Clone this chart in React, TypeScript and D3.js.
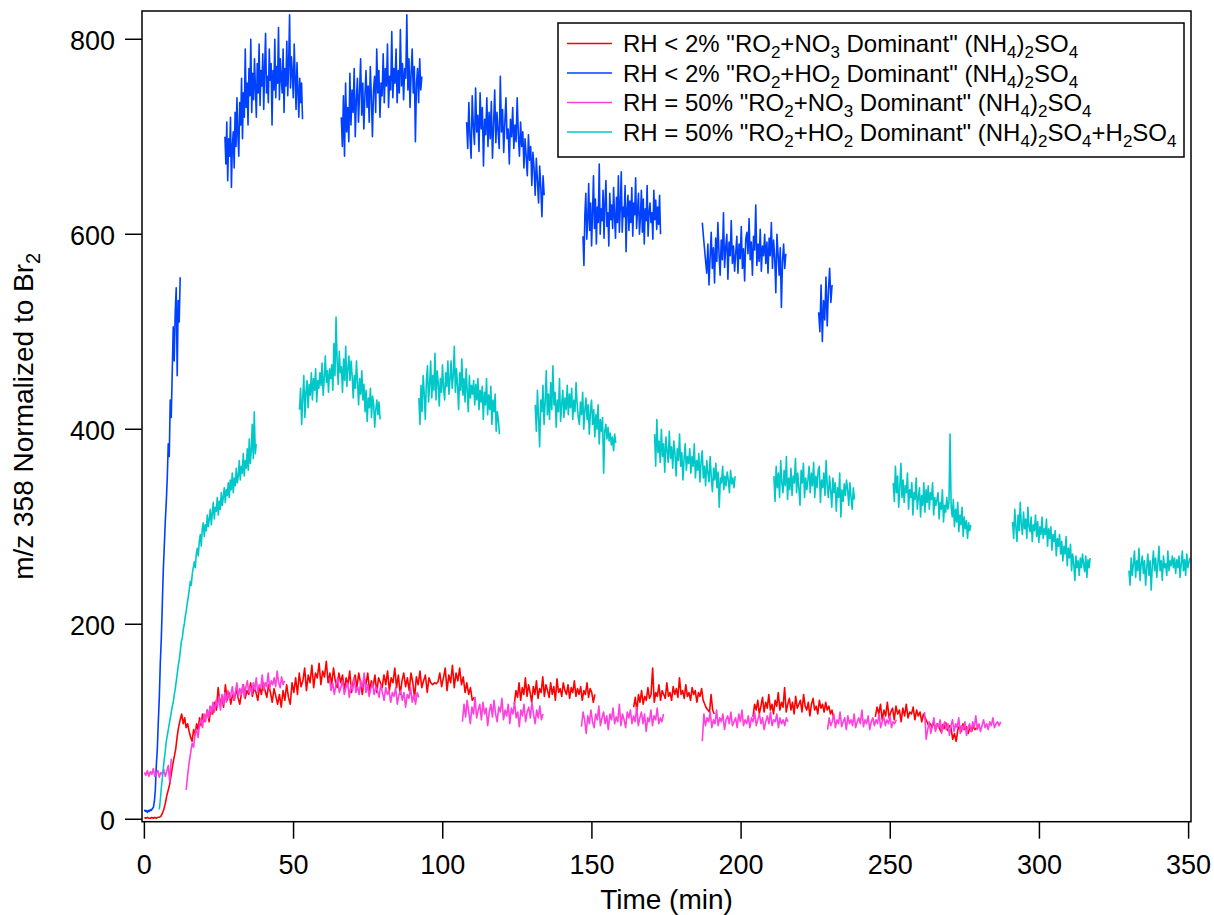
import React from "react";
import * as d3 from "d3";

const W = 1214;
const H = 915;
const FONT = "'Liberation Sans', Arial, Helvetica, sans-serif";

const xTicks = [0, 50, 100, 150, 200, 250, 300, 350];
const yTicks = [0, 200, 400, 600, 800];
const xTitle = "Time (min)";
const yTitle = "m/z 358 Normalized to Br_2";

const legendLabels = [
  'RH < 2% "RO_2+NO_3 Dominant" (NH_4)_2SO_4',
  'RH < 2% "RO_2+HO_2 Dominant" (NH_4)_2SO_4',
  'RH = 50% "RO_2+NO_3 Dominant" (NH_4)_2SO_4',
  'RH = 50% "RO_2+HO_2 Dominant" (NH_4)_2SO_4+H_2SO_4',
];
const seriesColors = ["#ff0000", "#0040ff", "#ff40dc", "#00c8c8"];

// Each piece: [start time (min), end time (min), values evenly spaced in time]
type Piece = [number, number, number[]];

// ---- Red: RH < 2% RO2+NO3 ----
const redR1a: Piece = [0, 20, [2, 1, 2, 1, 1, 2, 1, 2, 1, 2, 2, 3, 6, 10, 16, 24, 30, 36, 46, 56, 64, 72, 85, 95, 102, 108, 98, 104, 94, 98, 90, 84, 80, 92, 86, 98, 92, 104, 96, 108, 100]];
const redR1b: Piece = [20.5, 110.5, [104, 112, 100, 115, 108, 120, 112, 135, 118, 125, 115, 138, 122, 130, 118, 128,
  122, 134, 125, 118, 130, 138, 124, 132, 128, 140, 126, 135, 130, 122, 136, 128, 140, 132, 125, 138, 130, 120, 134, 126, 118,
  128, 115, 132, 122, 138, 125, 118, 140, 130, 145, 128, 150, 136, 142, 155, 132, 148, 140, 158, 135, 150, 145, 160, 138, 152, 146, 162, 140,
  150, 138, 155, 142, 135, 150, 140, 148, 132, 145, 138, 152, 130, 142, 148, 135, 150, 140, 128, 145, 138, 150, 132, 142, 136, 148, 130, 145, 140, 135,
  148, 138, 152, 132, 145, 140, 155, 135, 148, 128, 142, 150, 136, 145, 132, 150, 140, 125, 146, 138, 152, 135, 142, 148, 130, 145, 140, 138, 140, 139, 141, 150, 136,
  145, 155, 132, 148, 140, 158, 135, 150, 142, 155, 138, 146, 130, 140, 128, 135, 122, 125]];
const redR2: Piece = [124, 151, [118, 132, 125, 140, 122, 135, 128, 145, 126, 138, 130, 120, 136, 128, 142, 124, 134, 130, 146, 126, 138, 132, 125, 140, 128, 136, 122, 144, 130, 134, 126, 140, 132, 128, 138, 124, 135, 130, 142, 126, 134, 128, 136, 122, 132, 128, 140, 125, 134, 130, 120, 128]];
const redR3: Piece = [164, 191, [115, 125, 110, 128, 120, 132, 118, 126, 122, 135, 124, 128, 155, 120, 130, 126, 138, 122, 132, 128, 124, 140, 126, 130, 122, 136, 128, 134, 125, 145, 128, 132, 124, 138, 126, 130, 122, 135, 128, 132, 120, 130, 126, 134, 122, 118, 114, 112, 110, 128, 112, 108]];
const redR4: Piece = [204, 231, [105, 118, 112, 122, 108, 116, 125, 110, 120, 114, 128, 112, 118, 108, 122, 116, 130, 112, 120, 115, 135, 110, 118, 124, 112, 120, 108, 126, 114, 118, 122, 110, 128, 116, 112, 120, 106, 118, 124, 112, 116, 108, 122, 114, 118, 110, 120, 112, 116, 108, 112, 104]];
const redR5: Piece = [245, 279, [105, 115, 108, 118, 102, 112, 106, 120, 104, 110, 114, 102, 116, 108, 112, 100, 114, 106, 118, 104, 110, 108, 115, 102, 112, 106, 110, 100, 108, 104, 100, 96, 98, 94, 100, 92, 98, 95, 90, 97, 93, 99, 91, 96, 94, 82, 88, 80, 92, 96, 90, 98, 92, 95, 88, 94, 90, 96, 92, 94]];

// ---- Blue: RH < 2% RO2+HO2 ----
const blueB1: Piece = [0, 12, [10, 8, 9, 7, 9, 8, 10, 9, 11, 12, 18, 30, 55, 72, 100, 125, 160, 185, 220, 255, 280, 305, 325, 350, 385, 372, 430, 412, 458, 505, 470, 520, 545, 455, 532, 510, 556]];
const blueB2: Piece = [27, 53, [700, 672, 715, 655, 698, 680, 720, 648, 690, 705,
  668, 725, 690, 740, 702, 680, 735, 712, 760, 698,
  745, 720, 790, 730, 755, 712, 770, 742, 800, 725,
  765, 738, 780, 750, 720, 775, 745, 795, 732, 768,
  752, 785, 728, 770, 806, 745, 762, 735, 790, 758,
  775, 712, 768, 748, 800, 740, 772, 755, 812, 738,
  780, 760, 745, 790, 725, 770, 752, 798, 742, 775,
  825, 750, 782, 765, 740, 795, 760, 728, 776, 748,
  720, 760, 735, 755, 718]];
const blueB3: Piece = [66, 93, [720, 690, 742, 680, 755, 705, 730, 695, 765, 712,
  748, 725, 770, 700, 738, 760, 715, 745, 780, 722,
  755, 708, 742, 768, 730, 752, 715, 772, 740, 700,
  748, 762, 725, 790, 745, 768, 720, 755, 742, 785,
  735, 770, 752, 795, 730, 762, 748, 808, 740, 770,
  755, 790, 735, 768, 745, 810, 752, 775, 738, 770,
  760, 825, 748, 780, 730, 765, 790, 745, 772, 695,
  755, 770, 735, 780, 748, 762]];
const blueB4: Piece = [108, 134, [715, 688, 735, 700, 678, 742, 710, 692, 750, 705,
  722, 685, 745, 708, 730, 670, 718, 702, 740, 690,
  725, 698, 736, 678, 712, 748, 694, 725, 706, 688,
  762, 705, 728, 684, 714, 740, 698, 708, 672, 718,
  700, 730, 688, 712, 695, 740, 702, 680, 715, 690,
  705, 668, 698, 680, 660, 702, 676, 690, 650, 684,
  668, 640, 678, 655, 632, 670, 648, 618, 660, 640]];
const blueB5: Piece = [147, 173, [598, 568, 620, 642, 595, 615, 652, 604, 632, 588,
  622, 660, 606, 636, 590, 628, 612, 672, 600, 626,
  614, 645, 596, 632, 655, 608, 622, 588, 642, 615,
  630, 606, 648, 618, 596, 638, 612, 660, 602, 628,
  664, 602, 628, 618, 650, 582, 625, 640, 604, 634,
  612, 648, 598, 632, 620, 658, 606, 625, 642, 600,
  618, 645, 602, 636, 590, 626, 614, 650, 598, 622,
  632, 612, 622, 595, 645, 615, 635, 605, 628, 610,
  640, 600]];
const blueB6: Piece = [187, 215, [612, 598, 585, 572, 560, 590, 548, 576, 602, 565,
  586, 550, 596, 572, 612, 580, 558, 594, 574, 622,
  566, 586, 600, 554, 592, 578, 614, 570, 588, 562,
  580, 598, 560, 590, 575, 608, 565, 585, 552, 595,
  602, 580, 616, 574, 592, 558, 598, 584, 630, 568,
  590, 572, 605, 562, 588, 578, 600, 570, 592, 560,
  596, 578, 612, 565, 594, 576, 540, 600, 580, 558,
  586, 525, 572, 590, 565, 580]];
const blueB7: Piece = [226, 230.5, [520, 500, 548, 490, 532, 512, 556, 506, 542, 565, 530, 548]];

// ---- Pink: RH = 50% RO2+NO3 ----
const pinkP1: Piece = [0, 9, [48, 45, 50, 44, 49, 46, 52, 44, 47, 50, 43, 48, 46, 51, 44, 49, 55, 38, 62]];
const pinkP2: Piece = [14, 47, [30, 45, 58, 68, 78, 74, 88, 92, 84, 98, 102, 94, 108, 100, 112, 104, 116, 108, 120, 110, 122, 115, 126, 112, 128, 118, 130, 120, 132, 124, 128, 136, 122, 130, 140, 126, 134, 128, 138, 125, 135, 142, 130, 136, 128, 140, 133, 145, 130, 138, 135, 148, 132, 140, 136, 150, 134, 142, 138, 145, 136, 152, 140, 135, 146, 138, 142]];
const pinkP3: Piece = [62, 92, [145, 132, 140, 128, 138, 145, 130, 136, 142, 128, 135, 140, 125, 138, 132, 145, 130, 136, 128, 142, 135, 150, 130, 138, 126, 134, 140, 128, 136, 132, 125, 138, 130, 122, 135, 128, 132, 120, 130, 126, 135, 118, 128, 132, 122, 130, 115, 128, 124, 135, 120, 128, 118, 130, 125]];
const pinkP4: Piece = [106.6, 133.6, [100, 118, 105, 122, 110, 98, 115, 108, 125, 104, 112, 118, 102, 120, 108, 114, 96, 110, 118, 105, 122, 108, 100, 115, 110, 124, 102, 112, 106, 118, 98, 114, 108, 120, 104, 110, 95, 112, 106, 118, 100, 110, 115, 104, 120, 108, 98, 112, 104, 116, 102, 108]];
const pinkP5: Piece = [146.5, 174, [95, 110, 102, 88, 106, 98, 112, 100, 94, 108, 102, 116, 96, 104, 110, 98, 106, 92, 108, 102, 114, 98, 105, 100, 118, 96, 108, 102, 94, 110, 104, 112, 98, 106, 100, 115, 96, 104, 110, 98, 108, 90, 104, 100, 112, 96, 106, 102, 114, 98, 104, 100, 108]];
const pinkP6: Piece = [187, 215.7, [80, 108, 96, 104, 100, 110, 94, 102, 98, 112, 96, 104, 100, 108, 92, 102, 106, 98, 110, 96, 100, 104, 94, 108, 100, 112, 96, 102, 98, 106, 94, 104, 100, 110, 96, 102, 108, 98, 104, 92, 100, 106, 98, 110, 96, 102, 100, 108, 94, 104, 98, 102, 96, 104, 100]];
const pinkP7: Piece = [229, 252, [92, 104, 96, 100, 108, 94, 102, 98, 110, 95, 100, 104, 92, 106, 98, 102, 96, 108, 94, 100, 104, 98, 112, 95, 102, 98, 106, 92, 100, 104, 96, 102, 98, 108, 94, 100, 105, 96, 102, 98, 106, 94, 100, 98, 102]];
const pinkP8: Piece = [261.5, 287, [110, 82, 92, 100, 88, 96, 104, 90, 98, 94, 102, 88, 96, 100, 92, 98, 86, 96, 102, 90, 98, 94, 104, 88, 96, 92, 100, 86, 94, 98, 90, 100, 94, 106, 92, 98, 90, 96, 102, 94, 98, 92, 100, 96, 104, 94, 98, 100, 96, 100]];

// ---- Cyan: RH = 50% RO2+HO2 ----
const cyanC1: Piece = [5, 37.5, [10, 20, 32, 42, 52, 62, 70, 80, 86, 92,
  98, 104, 110, 116, 120, 128, 134, 142, 150, 158,
  164, 172, 182, 186, 195, 200, 208, 214, 222, 228,
  236, 244, 240, 252, 258, 264, 258, 272, 278, 270,
  285, 292, 280, 298, 304, 290, 302, 296, 312, 300,
  308, 318, 302, 314, 325, 308, 320, 316, 330, 312,
  326, 318, 335, 322, 330, 340, 325, 338, 332, 345,
  330, 348, 338, 355, 335, 350, 342, 360, 345, 352,
  368, 348, 362, 355, 375, 352, 368, 360, 380, 358,
  390, 365, 378, 405, 370, 418, 375, 385]];
const cyanC2: Piece = [52, 79, [420, 442, 405, 432, 455, 412, 438, 450, 422, 446,
  435, 458, 430, 452, 440, 462, 428, 450, 442, 458,
  445, 468, 435, 452, 475, 448, 460, 438, 462, 452,
  466, 440, 488, 455, 515, 470, 446, 480, 458, 464,
  438, 472, 450, 485, 444, 462, 475, 450, 470, 455,
  432, 455, 442, 470, 448, 425, 452, 436, 460, 430,
  446, 418, 440, 408, 432, 422, 442, 412, 434, 426,
  402, 420, 430, 415, 428, 410]];
const cyanC3: Piece = [92, 119, [432, 405, 445, 418, 455, 436, 410, 450, 465, 428,
  446, 470, 432, 455, 440, 478, 430, 460, 448, 424,
  452, 438, 466, 442, 430, 458, 444, 470, 436, 452,
  470, 442, 455, 485, 438, 462, 445, 420, 458, 440,
  472, 435, 452, 428, 462, 440, 418, 455, 432, 445,
  436, 450, 425, 446, 430, 452, 420, 440, 428, 444,
  410, 438, 425, 452, 415, 435, 420, 444, 405, 430,
  418, 436, 398, 418, 410, 395]];
const cyanC4: Piece = [131, 158, [425, 398, 440, 412, 382, 430, 418, 445, 405, 428,
  460, 415, 436, 410, 448, 420, 465, 425, 438, 402,
  430, 418, 452, 408, 425, 440, 412, 432, 420, 445,
  415, 436, 422, 442, 410, 430, 418, 448, 426, 412,
  405, 428, 415, 438, 400, 420, 432, 410, 425, 395,
  418, 430, 405, 420, 392, 415, 400, 425, 385, 410,
  398, 412, 355, 398, 405, 390, 402, 388, 396, 384,
  392, 378, 395, 386]];
const cyanC5: Piece = [171, 198, [395, 362, 410, 376, 388, 366, 400, 372, 385, 356,
  392, 378, 366, 398, 370, 382, 360, 388, 375, 352,
  380, 368, 395, 362, 376, 348, 370, 385, 358, 372,
  365, 380, 355, 372, 362, 385, 350, 368, 358, 375,
  346, 366, 378, 350, 362, 342, 368, 355, 346, 372,
  350, 336, 360, 348, 365, 340, 356, 320, 350, 345,
  362, 338, 352, 342, 356, 348, 335, 358, 344, 350,
  340, 352]];
const cyanC6: Piece = [211, 238, [352, 326, 362, 340, 355, 330, 368, 345, 335, 358,
  342, 372, 328, 350, 338, 360, 332, 352, 345, 370,
  335, 355, 340, 322, 358, 345, 365, 330, 350, 338,
  348, 362, 335, 355, 342, 366, 330, 352, 340, 358,
  362, 325, 348, 340, 355, 332, 368, 342, 330, 352,
  338, 320, 350, 335, 345, 316, 340, 330, 355, 310,
  338, 326, 344, 332, 348, 338, 322, 345, 330, 318,
  340, 328]];
const cyanC7: Piece = [251, 277, [345, 326, 362, 335, 352, 320, 340, 365, 330, 348,
  325, 342, 335, 355, 318, 338, 330, 345, 312, 335,
  328, 350, 318, 330, 340, 310, 332, 322, 345, 315,
  338, 325, 342, 318, 335, 328, 345, 312, 330, 322,
  328, 335, 308, 325, 318, 338, 305, 322, 315, 330,
  318, 325, 395, 320, 310, 328, 300, 318, 305, 325,
  295, 312, 302, 320, 290, 310, 298, 306, 288, 304,
  296, 302]];
const cyanC8: Piece = [291, 317, [305, 288, 318, 300, 285, 312, 296, 325, 302, 292,
  315, 298, 308, 288, 320, 300, 295, 310, 285, 302,
  296, 312, 290, 305, 284, 300, 292, 310, 288, 298,
  292, 308, 280, 298, 288, 300, 276, 292, 285, 296,
  270, 288, 280, 292, 272, 285, 265, 280, 272, 290,
  260, 278, 268, 282, 255, 272, 262, 245, 270, 258,
  265, 250, 268, 258, 272, 262, 254, 270, 248, 266,
  258, 268]];
const cyanC9: Piece = [330, 350.5, [255, 240, 268, 250, 262, 275, 248, 265, 255, 278,
  245, 262, 270, 252, 265, 240, 258, 272, 250, 265,
  235, 260, 275, 255, 268, 248, 262, 280, 255, 265,
  245, 270, 258, 262, 250, 275, 255, 265, 260, 270,
  258, 268, 252, 266, 258, 270, 248, 262, 275, 255,
  266, 250, 272, 258, 264, 268]];

const redSegments: Piece[][] = [[redR1a, redR1b], [redR2], [redR3], [redR4], [redR5]];
const blueSegments: Piece[][] = [[blueB1], [blueB2], [blueB3], [blueB4], [blueB5], [blueB6], [blueB7]];
const pinkSegments: Piece[][] = [[pinkP1], [pinkP2], [pinkP3], [pinkP4], [pinkP5], [pinkP6], [pinkP7], [pinkP8]];
const cyanSegments: Piece[][] = [[cyanC1], [cyanC2], [cyanC3], [cyanC4], [cyanC5], [cyanC6], [cyanC7], [cyanC8], [cyanC9]];
const allSeries = [redSegments, blueSegments, pinkSegments, cyanSegments];

function toPoints(seg: Piece[]): [number, number][] {
  const pts: [number, number][] = [];
  for (const [t0, t1, vals] of seg) {
    const n = vals.length;
    vals.forEach((v, i) => {
      pts.push([t0 + ((t1 - t0) * i) / Math.max(1, n - 1), v]);
    });
  }
  return pts;
}

const plot = { left: 142, right: 1191, top: 11, bottom: 821.7 };
const x = d3.scaleLinear().domain([-0.8, 350.8]).range([plot.left, plot.right]);
const y = d3.scaleLinear().domain([-2.5, 829]).range([plot.bottom, plot.top]);

function Rich({ text, size, subSize, shift }: { text: string; size: number; subSize: number; shift: number }) {
  const parts = text.split(/_(\d)/);
  return (
    <>
      {parts.map((p, i) => {
        if (p === "") return null;
        return i % 2 === 0 ? (
          <tspan key={i} dy={i === 0 ? 0 : -shift} fontSize={size}>
            {p}
          </tspan>
        ) : (
          <tspan key={i} dy={shift} fontSize={subSize}>
            {p}
          </tspan>
        );
      })}
    </>
  );
}

export default function App() {
  const line = d3
    .line<[number, number]>()
    .x((d) => x(d[0]))
    .y((d) => y(d[1]));

  const legendRows = [43.5, 73, 102.5, 132];

  return (
    <svg width={W} height={H} style={{ position: "absolute", left: 0, top: 0, background: "#fff" }} fontFamily={FONT}>
      <defs>
        <clipPath id="plotclip">
          <rect x={plot.left} y={plot.top} width={plot.right - plot.left} height={plot.bottom - plot.top} />
        </clipPath>
      </defs>
      <rect x={0} y={0} width={W} height={H} fill="#fff" />
      <g clipPath="url(#plotclip)">
        {allSeries.map((segs, si) =>
          segs.map((seg, k) => (
            <path
              key={`${si}-${k}`}
              d={line(toPoints(seg)) || ""}
              fill="none"
              stroke={seriesColors[si]}
              strokeWidth={1.6}
              strokeLinejoin="round"
            />
          ))
        )}
      </g>
      <rect
        x={plot.left}
        y={plot.top}
        width={plot.right - plot.left}
        height={plot.bottom - plot.top}
        fill="none"
        stroke="#000"
        strokeWidth={1.5}
      />
      {yTicks.map((v) => (
        <g key={`y${v}`}>
          <line x1={plot.left - 17} x2={plot.left} y1={y(v)} y2={y(v)} stroke="#000" strokeWidth={1.5} />
          <text x={115} y={y(v) + 11} textAnchor="end" fontSize={27} fill="#000">
            {v}
          </text>
        </g>
      ))}
      {xTicks.map((t) => (
        <g key={`x${t}`}>
          <line x1={x(t)} x2={x(t)} y1={plot.bottom} y2={plot.bottom + 17} stroke="#000" strokeWidth={1.5} />
          <text x={x(t)} y={874} textAnchor="middle" fontSize={27} fill="#000">
            {t}
          </text>
        </g>
      ))}
      <text x={(plot.left + plot.right) / 2} y={909} textAnchor="middle" fontSize={28} fill="#000">
        {xTitle}
      </text>
      <text transform={`translate(33, ${(plot.top + plot.bottom) / 2}) rotate(-90)`} textAnchor="middle" fontSize={28} fill="#000">
        <Rich text={yTitle} size={28} subSize={20} shift={7} />
      </text>
      <rect x={558} y={23} width={626} height={134} fill="#fff" stroke="#000" strokeWidth={1.5} />
      {legendLabels.map((lab, i) => (
        <g key={`lg${i}`}>
          <line x1={567} x2={612} y1={legendRows[i]} y2={legendRows[i]} stroke={seriesColors[i]} strokeWidth={1.5} />
          <text x={623} y={legendRows[i] + 8.5} fontSize={24} fill="#000">
            <Rich text={lab} size={24} subSize={17} shift={6} />
          </text>
        </g>
      ))}
    </svg>
  );
}
